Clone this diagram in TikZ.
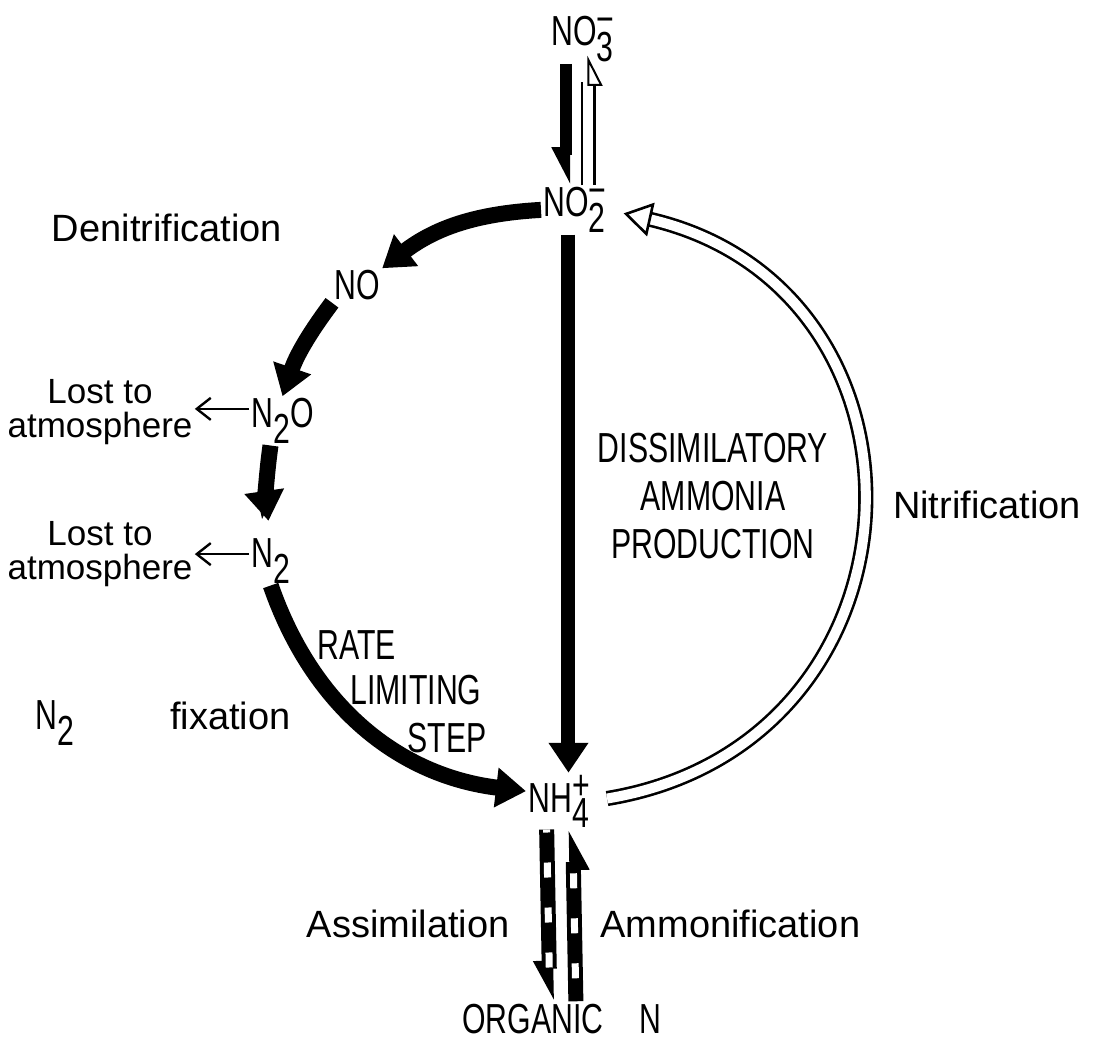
\documentclass[tikz,border=0pt]{standalone}
\usepackage{fontspec}
\setmainfont{Liberation Sans}
\newfontfamily\capfont[FakeStretch=0.72]{Liberation Sans}
\usetikzlibrary{arrows.meta}
\newcommand{\ionlbl}[3]{#1\makebox[0pt][l]{\raisebox{0.3em}{#3}}\raisebox{-0.36em}{#2}}
\newcommand{\mns}{\symbol{"2212}}

\begin{document}
\begin{tikzpicture}[x=0.5pt,y=0.5pt,font=\fontsize{19pt}{20pt}\selectfont,
  sp/.style={inner sep=1pt,font=\fontsize{21pt}{22pt}\selectfont\capfont},
  lb/.style={inner sep=1pt,align=center},
  big/.style={line width=8pt,-{Triangle[length=15pt,width=19pt]}},
  sbig/.style={line width=6pt,-{Triangle[harpoon,swap,length=15pt,width=14pt]}},
  hbody/.style={double,line width=1.3pt,double distance=5pt},
  htip/.style={draw=white,line width=1pt,-{Triangle[length=14pt,width=17pt,color=black,fill=white,line width=1.3pt]}},
  asm/.style={line width=7.5pt,-{Triangle[harpoon,swap,length=16pt,width=15pt]}},
  wd/.style={postaction={draw=white,line width=3.5pt,dash pattern=on 7.5pt off 15pt,dash phase=#1,shorten >=12pt,-}},
  thn/.style={line width=1.2pt,-{Straight Barb[length=7pt,width=11pt]}}]
\useasboundingbox (0,0) rectangle (1097,1039);
\node[sp,anchor=base west](no3) at (549,993){\ionlbl{NO}{3}{\mns}};
\node[sp,anchor=base west](no2) at (541,822){\ionlbl{NO}{2}{\mns}};
\node[sp,anchor=base west](no) at (332,739){NO};
\node[sp,anchor=base west](n2o) at (249,611){\ionlbl{N}{2}{}O};
\node[sp,anchor=base west](n2) at (249,471){\ionlbl{N}{2}{}};
\node[sp,anchor=base west](nh4) at (526,227){\ionlbl{NH}{4}{+}};
\node[sp,anchor=base west](org) at (460,6){ORGANIC\hspace{18pt}N};
\node[lb](deni) at (167,811){Denitrification};
\node[lb,font=\fontsize{17.5pt}{17pt}\selectfont](lost1) at (100,627){Lost to\\atmosphere};
\node[lb,font=\fontsize{17.5pt}{17pt}\selectfont](lost2) at (100,485){Lost to\\atmosphere};
\node[sp,align=center,font=\fontsize{21pt}{24pt}\selectfont\capfont](dap) at (713,543){DISSIMILATORY\\AMMONIA\\PRODUCTION};
\node[lb](nitri) at (987,534){Nitrification};
\node[sp,anchor=base west](rate) at (315,379){RATE};
\node[sp,anchor=base west](lim) at (348,334){LIMITING};
\node[sp,anchor=base west](stp) at (405,286){STEP};
\node[sp,anchor=base west](fix) at (33,309){\ionlbl{N}{2}{}\hspace{48pt}{\rmfamily\fontsize{19pt}{20pt}\selectfont fixation}};
\node[lb,anchor=base east](assim) at (512,102){Assimilation};
\node[lb,anchor=base west](ammon) at (598,102){Ammonification};
\draw[sbig]([xshift=-8pt]no3.south)--([xshift=-8pt]no3.south |- no2.north);
\draw[hbody,shorten >=9pt]([xshift=3pt]no3.south |- no2.north)--([xshift=3pt]no3.south);
\draw[htip,-{Triangle[harpoon,swap,length=14pt,width=14pt,color=black,fill=white,line width=1pt]},shorten >=-4pt]([xshift=3pt]no3.south |- no2.north)--([xshift=3pt]no3.south);
\draw[big](no2.west) to[bend right=17] (no.north east);
\draw[big](no.south west) to[bend right=9] (n2o.north);
\draw[big,shorten >=8pt]([xshift=-6pt]n2o.south) to[bend right=8] (n2.north);
\draw[big](n2.south) to[bend right=32] ([yshift=5pt]nh4.west);
\draw[big,line width=7pt]([xshift=-3pt]no2.south)--([xshift=-3pt]no2.south |- nh4.north);
\draw[hbody,shorten <=8pt,shorten >=20pt](nh4.east) to[bend right=79,looseness=1.52] (no2.east);
\draw[htip,shorten <=8pt,shorten >=8pt](nh4.east) to[bend right=79,looseness=1.52] (no2.east);
\draw[asm,wd=6pt]([xshift=-6pt]nh4.south)--([xshift=-6pt]org.north);
\draw[asm,wd=11pt]([xshift=7pt]org.north)--([xshift=7pt]nh4.south);
\draw[thn]([yshift=6pt]n2o.west)--([yshift=6pt]n2o.west -| lost1.east);
\draw[thn]([yshift=3.5pt]n2.west)--([yshift=3.5pt]n2.west -| lost2.east);
\end{tikzpicture}
\end{document}
